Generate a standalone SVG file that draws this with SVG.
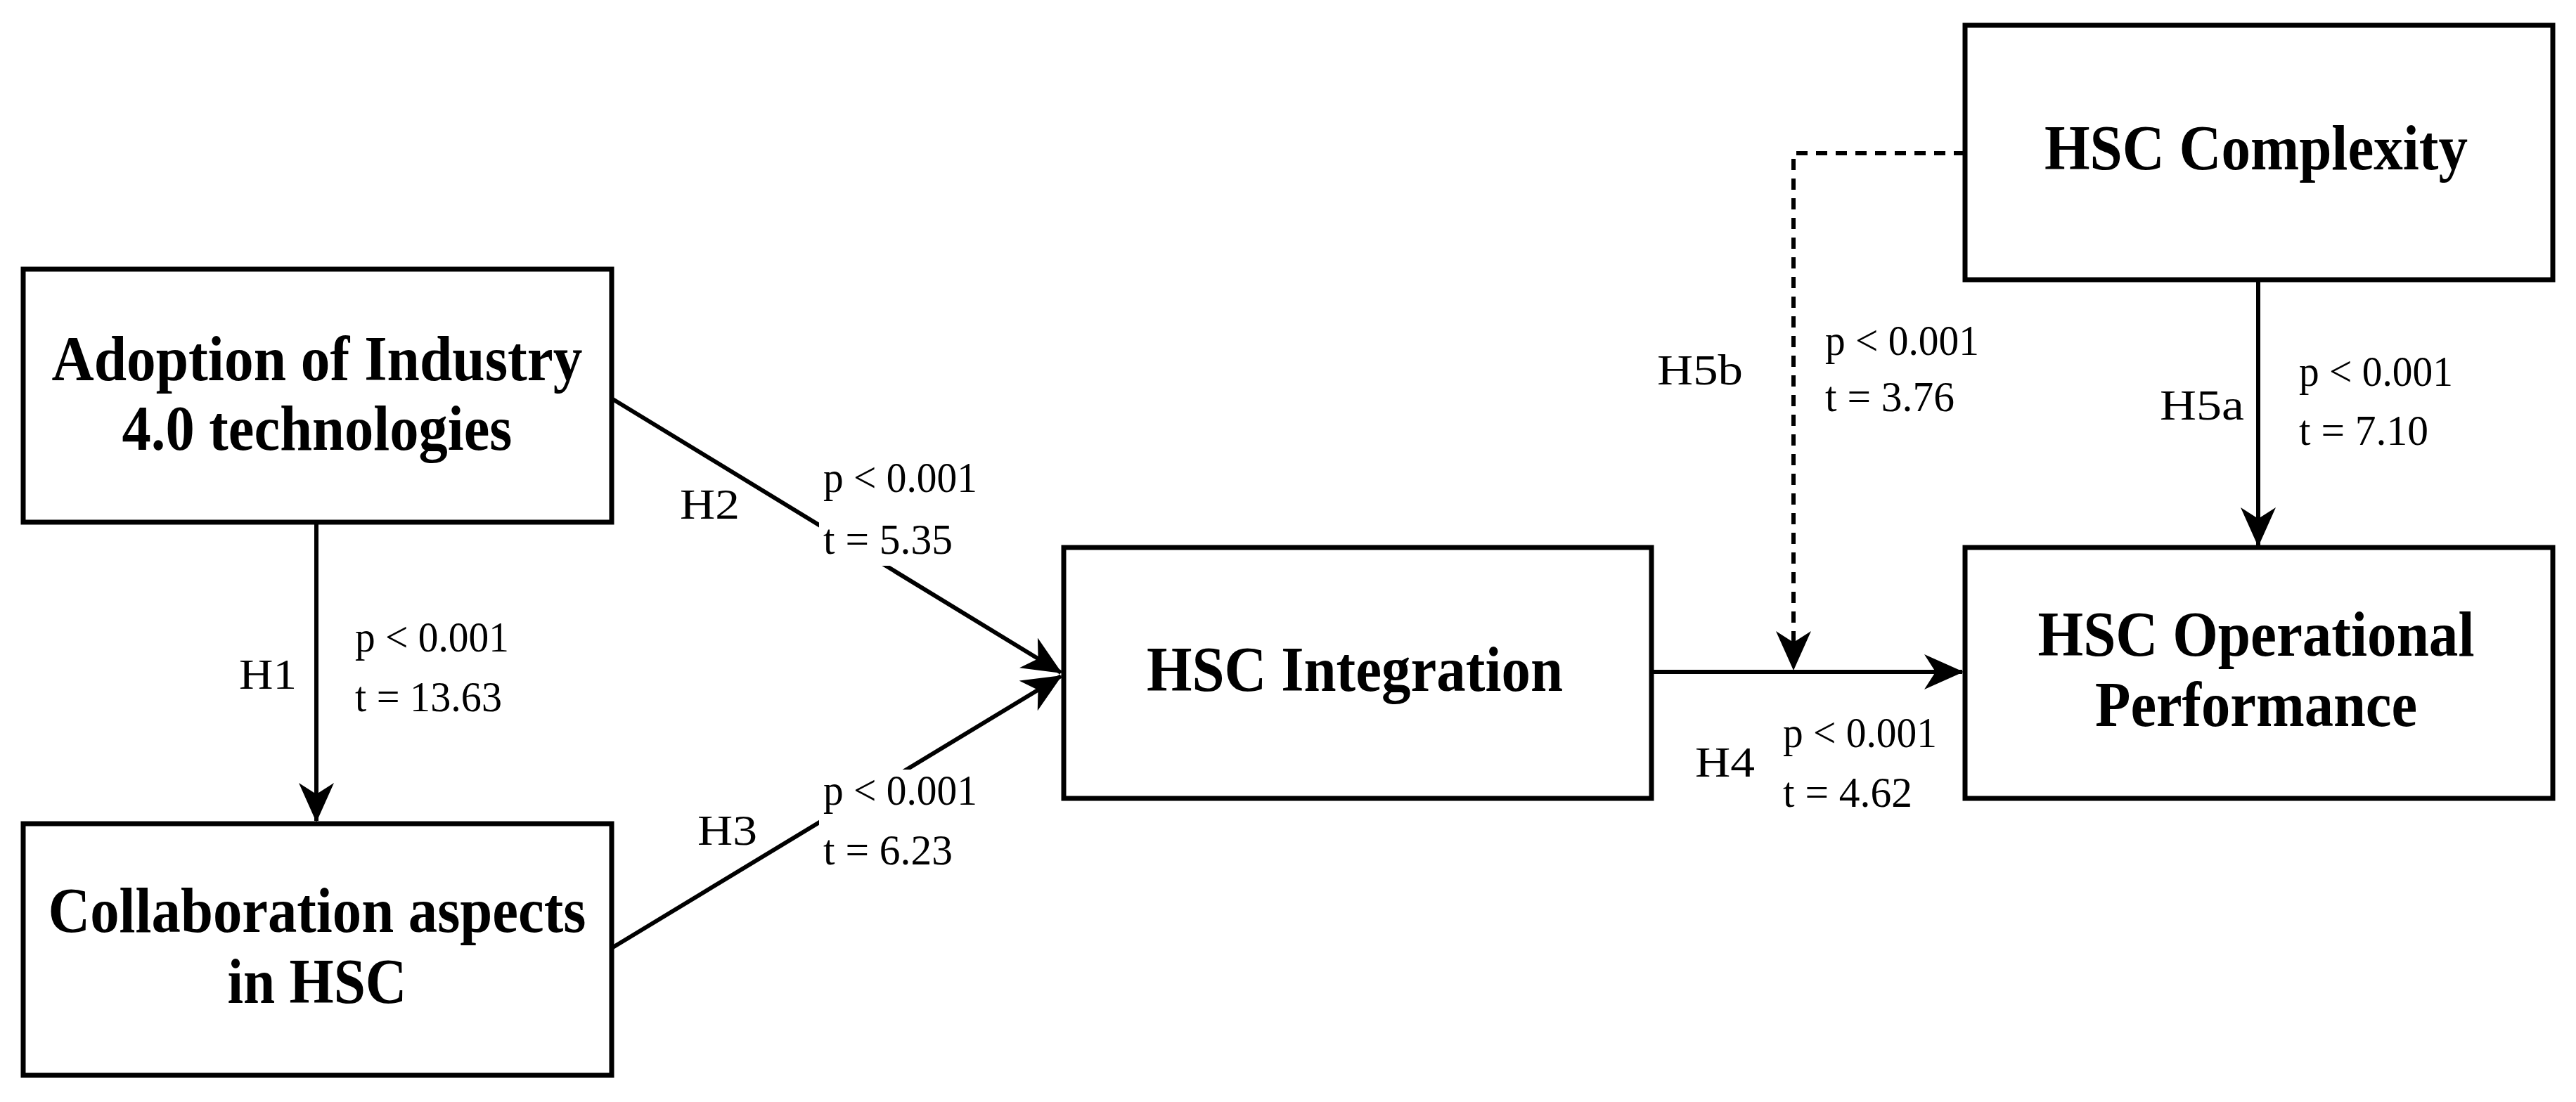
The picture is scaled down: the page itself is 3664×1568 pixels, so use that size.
<svg xmlns="http://www.w3.org/2000/svg" width="3664" height="1568" viewBox="0 0 3664 1568">
<style>
.box{fill:#fff;stroke:#000;stroke-width:7}
.t{font-family:"Liberation Serif",serif;font-weight:bold;font-size:90px;text-anchor:middle;fill:#000}
.l{font-family:"Liberation Serif",serif;font-size:62px;fill:#000}
.c{stroke:#000;stroke-width:6;fill:none}
</style>
<defs>
<marker id="a" markerUnits="userSpaceOnUse" markerWidth="56" markerHeight="50" viewBox="0 0 56 50" refX="54" refY="25" orient="auto">
<path d="M0,0 L56,25 L0,50 L16,25 z" fill="#000"/>
</marker>
</defs>
<g id="connectors">
<line class="c" x1="450" y1="743" x2="450" y2="1168" marker-end="url(#a)"/>
<line class="c" x1="870" y1="567" x2="1509" y2="957" marker-end="url(#a)"/>
<line class="c" x1="870" y1="1349" x2="1509" y2="962" marker-end="url(#a)"/>
<line class="c" x1="2349" y1="956" x2="2791" y2="956" marker-end="url(#a)"/>
<line class="c" x1="3212" y1="398" x2="3212" y2="776" marker-end="url(#a)"/>
<path class="c" d="M2795,218 H2551 V952" stroke-dasharray="16,12" marker-end="url(#a)"/>
</g>
<g id="n1"><rect class="box" x="33" y="383" width="837" height="360"/>
<text class="t" x="451" y="541" textLength="755" lengthAdjust="spacingAndGlyphs">Adoption of Industry</text>
<text class="t" x="451" y="640" textLength="555" lengthAdjust="spacingAndGlyphs">4.0 technologies</text></g>
<g id="n2"><rect class="box" x="33" y="1172" width="837" height="358"/>
<text class="t" x="451" y="1326" textLength="765" lengthAdjust="spacingAndGlyphs">Collaboration aspects</text>
<text class="t" x="451" y="1427" textLength="255" lengthAdjust="spacingAndGlyphs">in HSC</text></g>
<g id="n3"><rect class="box" x="1513" y="779" width="836" height="357"/>
<text class="t" x="1927" y="983" textLength="592" lengthAdjust="spacingAndGlyphs">HSC Integration</text></g>
<g id="n4"><rect class="box" x="2795" y="36" width="836" height="362"/>
<text class="t" x="3209" y="241" textLength="602" lengthAdjust="spacingAndGlyphs">HSC Complexity</text></g>
<g id="n5"><rect class="box" x="2795" y="779" width="836" height="357"/>
<text class="t" x="3209" y="933" textLength="621" lengthAdjust="spacingAndGlyphs">HSC Operational</text>
<text class="t" x="3209" y="1033" textLength="458" lengthAdjust="spacingAndGlyphs">Performance</text></g>
<g id="labels">
<rect x="1165" y="650" width="230" height="155" fill="#fff"/>
<rect x="1165" y="1095" width="230" height="150" fill="#fff"/>
<text class="l" x="340" y="980" textLength="82" lengthAdjust="spacingAndGlyphs">H1</text>
<text class="l" x="505" y="927" textLength="219" lengthAdjust="spacingAndGlyphs">p &lt; 0.001</text>
<text class="l" x="505" y="1012" textLength="209" lengthAdjust="spacingAndGlyphs">t = 13.63</text>
<text class="l" x="967" y="738" textLength="85" lengthAdjust="spacingAndGlyphs">H2</text>
<text class="l" x="1171" y="700" textLength="219" lengthAdjust="spacingAndGlyphs">p &lt; 0.001</text>
<text class="l" x="1171" y="788" textLength="184" lengthAdjust="spacingAndGlyphs">t = 5.35</text>
<text class="l" x="992" y="1202" textLength="85" lengthAdjust="spacingAndGlyphs">H3</text>
<text class="l" x="1171" y="1145" textLength="219" lengthAdjust="spacingAndGlyphs">p &lt; 0.001</text>
<text class="l" x="1171" y="1230" textLength="184" lengthAdjust="spacingAndGlyphs">t = 6.23</text>
<text class="l" x="2357" y="547" textLength="122" lengthAdjust="spacingAndGlyphs">H5b</text>
<text class="l" x="2596" y="505" textLength="219" lengthAdjust="spacingAndGlyphs">p &lt; 0.001</text>
<text class="l" x="2596" y="585" textLength="184" lengthAdjust="spacingAndGlyphs">t = 3.76</text>
<text class="l" x="3072" y="597" textLength="120" lengthAdjust="spacingAndGlyphs">H5a</text>
<text class="l" x="3270" y="549" textLength="219" lengthAdjust="spacingAndGlyphs">p &lt; 0.001</text>
<text class="l" x="3270" y="633" textLength="184" lengthAdjust="spacingAndGlyphs">t = 7.10</text>
<text class="l" x="2411" y="1105" textLength="85" lengthAdjust="spacingAndGlyphs">H4</text>
<text class="l" x="2536" y="1063" textLength="219" lengthAdjust="spacingAndGlyphs">p &lt; 0.001</text>
<text class="l" x="2536" y="1148" textLength="184" lengthAdjust="spacingAndGlyphs">t = 4.62</text>
</g>
</svg>
